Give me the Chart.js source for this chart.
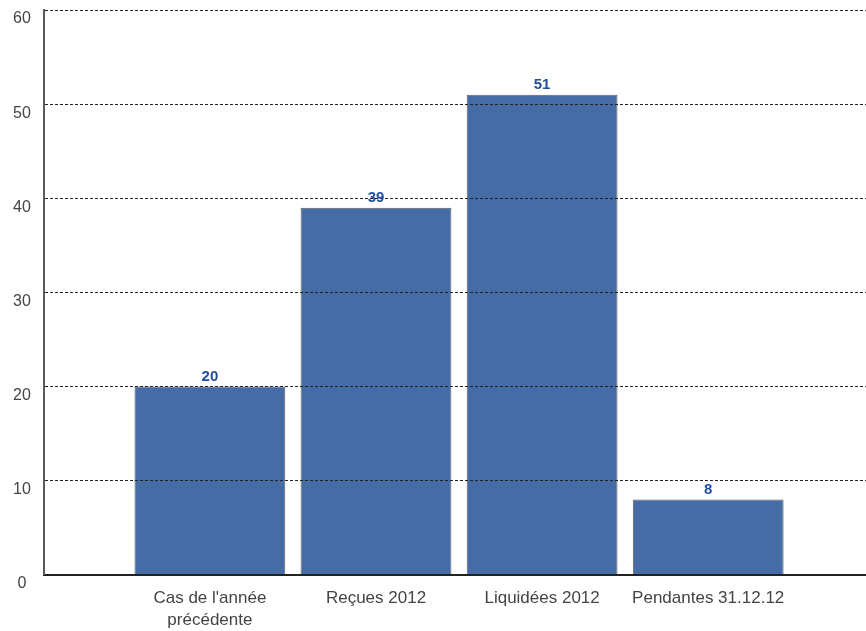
<!DOCTYPE html>
<html>
<head>
<meta charset="utf-8">
<script src="https://cdn.jsdelivr.net/npm/chart.js@4/dist/chart.umd.min.js"></script>
<style>
	html, body { margin: 0; padding: 0; background: #fff; }
	#wrap { width: 866px; height: 631px; }
</style>
</head>
<body>
<div id="wrap"><canvas id="myChart"></canvas></div>
<script>
// categories and counts
const categories = [["Cas de l'année", "précédente"], "Reçues 2012", "Liquidées 2012", "Pendantes 31.12.12"];
const positions = [1, 2, 3, 4];
const cases = [20, 39, 51, 8];
const yTicks = [0, 10, 20, 30, 40, 50, 60];

const points = [];
for (let i = 0; i < cases.length; i++) {
	points.push({ x: positions[i], y: cases[i] });
}

// value labels above each bar
const valueLabels = {
	id: "valueLabels",
	afterDraw(chart) {
		const ctx = chart.ctx;
		const meta = chart.getDatasetMeta(0);
		ctx.save();
		ctx.font = "bold 15px 'Liberation Sans', Arial, sans-serif";
		ctx.fillStyle = "#23509c";
		ctx.textAlign = "center";
		ctx.textBaseline = "bottom";
		meta.data.forEach((bar, i) => {
			ctx.fillText(String(cases[i]), bar.x, bar.y - 2);
		});
		ctx.restore();
	}
};

// drop the extra space scales reserve for their edge labels
function noEdgePadding(scale) {
	scale.paddingTop = 0;
	scale.paddingBottom = 0;
	scale.paddingLeft = 0;
	scale.paddingRight = 0;
}

new Chart("myChart", {
	type: "bar",
	data: {
		datasets: [
			{
				label: "Cas",
				data: points,
				backgroundColor: "#466ca6",
				borderColor: "#5f5f5f",
				borderWidth: 1,
				borderSkipped: "bottom",
				barPercentage: 0.908,
				categoryPercentage: 1
			}
		]
	},
	options: {
		responsive: true,
		maintainAspectRatio: false,
		animation: false,
		layout: { padding: { left: 0, top: 10, right: 0, bottom: -13 } },
		plugins: {
			legend: { display: false },
			tooltip: { enabled: false }
		},
		scales: {
			x: {
				type: "linear",
				offset: false,
				min: 0,
				max: 4.95,
				afterFit: noEdgePadding,
				grid: { display: false, drawTicks: false },
				border: { display: true, color: "#222", width: 2, z: 2 },
				ticks: {
					stepSize: 1,
					includeBounds: false,
					autoSkip: false,
					maxRotation: 0,
					padding: 12,
					color: "#444",
					font: { family: "'Liberation Sans', Arial, sans-serif", size: 17, lineHeight: 1.33 },
					callback: (v) => (Number.isInteger(v) && v >= 1 && v <= categories.length) ? categories[v - 1] : ""
				}
			},
			y: {
				min: yTicks[0],
				max: yTicks[yTicks.length - 1],
				afterBuildTicks: (scale) => { scale.ticks = yTicks.map(v => ({ value: v })); },
				afterFit: noEdgePadding,
				grid: { color: "#222", lineWidth: 1, drawTicks: false, z: 1 },
				border: { display: true, color: "#5a5a5a", width: 2, dash: [3, 2], z: 2 },
				ticks: {
					padding: 13,
					crossAlign: "center",
					labelOffset: 9,
					color: "#444",
					font: { family: "'Liberation Sans', Arial, sans-serif", size: 16 }
				}
			}
		}
	},
	plugins: [valueLabels]
});
</script>
</body>
</html>
